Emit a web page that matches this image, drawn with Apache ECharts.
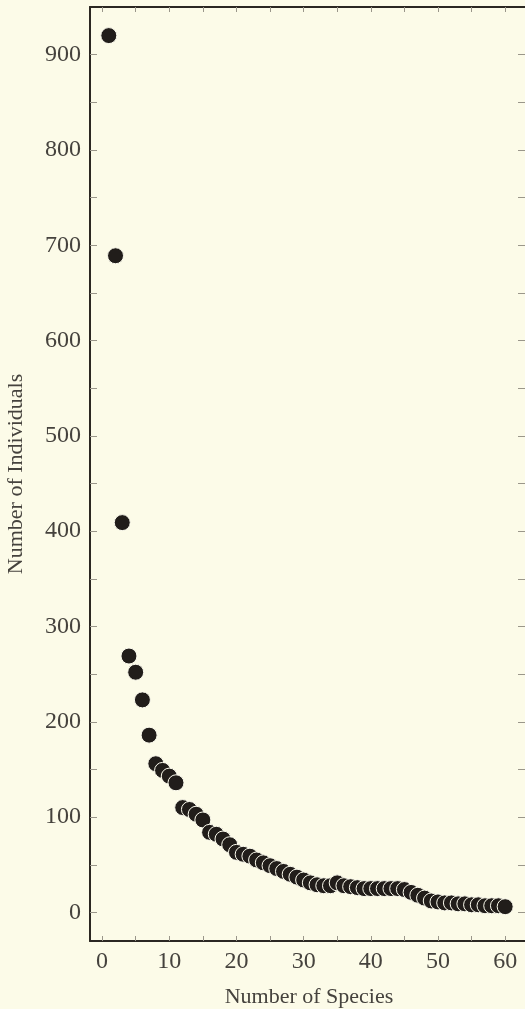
<!DOCTYPE html>
<html>
<head>
<meta charset="utf-8">
<script src="https://cdn.jsdelivr.net/npm/echarts@6/dist/echarts.min.js"></script>
<style>
html,body{margin:0;padding:0;background:#fcfbe8;}
#chart{width:525px;height:1009px;}
</style>
</head>
<body>
<div id="chart"></div>
<script>
const speciesRank = [1,2,3,4,5,6,7,8,9,10,11,12,13,14,15,16,17,18,19,20,21,22,23,24,25,26,27,28,29,30,31,32,33,34,35,36,37,38,39,40,41,42,43,44,45,46,47,48,49,50,51,52,53,54,55,56,57,58,59,60];
const individuals = [920,689,409,269,252,223,186,156,149,143,136,110,108,103,97,84,82,77,71,63,61,59,55,52,49,46,43,40,37,34,31,29,28,28,31,28,27,26,25,25,25,25,25,25,24,21,18,15,12,11,10,10,9,9,8,8,7,7,7,6];
const xTickValues = [0,5,10,15,20,25,30,35,40,45,50,55,60];
const xLabelValues = [0,10,20,30,40,50,60];
const yTickValues = [0,50,100,150,200,250,300,350,400,450,500,550,600,650,700,750,800,850,900];
const yLabelValues = [0,100,200,300,400,500,600,700,800,900];

const points = speciesRank.map((x, i) => [x, individuals[i]]);
const serif = '"Liberation Serif", "DejaVu Serif", serif';
const spineColor = '#2b2722';
const tickColor = '#9a968a';
const labelColor = '#45423d';

const chart = echarts.init(document.getElementById('chart'), null, {renderer: 'canvas'});
chart.setOption({
  backgroundColor: '#fcfbe8',
  animation: false,
  grid: {left: 90, top: 7, width: 438, height: 934, containLabel: false, outerBoundsMode: 'none'},
  xAxis: [
    {
      type: 'value', position: 'bottom', min: -1.8, max: 63.4,
      name: 'Number of Species', nameLocation: 'middle', nameGap: 45,
      nameTextStyle: {fontFamily: serif, fontSize: 22, color: labelColor},
      axisLine: {show: true, onZero: false, lineStyle: {color: spineColor, width: 2}},
      axisTick: {show: true, inside: true, length: 5, customValues: xTickValues, lineStyle: {color: tickColor, width: 1}},
      axisLabel: {customValues: xLabelValues, fontFamily: serif, fontSize: 24, color: labelColor, margin: 9},
      splitLine: {show: false}
    },
    {
      type: 'value', position: 'top', min: -1.8, max: 63.4,
      axisLine: {show: true, onZero: false, lineStyle: {color: spineColor, width: 2}},
      axisTick: {show: true, inside: true, length: 5, customValues: xTickValues, lineStyle: {color: tickColor, width: 1}},
      axisLabel: {show: false},
      splitLine: {show: false}
    }
  ],
  yAxis: [
    {
      type: 'value', position: 'left', min: -30, max: 950,
      name: 'Number of Individuals', nameLocation: 'middle', nameGap: 63, nameRotate: 90,
      nameTextStyle: {fontFamily: serif, fontSize: 22, color: labelColor},
      axisLine: {show: true, onZero: false, lineStyle: {color: spineColor, width: 2}},
      axisTick: {show: true, inside: true, length: 7, customValues: yTickValues, lineStyle: {color: tickColor, width: 1}},
      axisLabel: {customValues: yLabelValues, fontFamily: serif, fontSize: 24, color: labelColor, margin: 9},
      splitLine: {show: false}
    },
    {
      type: 'value', position: 'right', min: -30, max: 950,
      axisLine: {show: true, onZero: false, lineStyle: {color: spineColor, width: 2}},
      axisTick: {show: true, inside: true, length: 10, customValues: yTickValues, lineStyle: {color: tickColor, width: 1}},
      axisLabel: {show: false},
      splitLine: {show: false}
    }
  ],
  series: [{
    type: 'scatter',
    xAxisIndex: 0, yAxisIndex: 0,
    data: points,
    symbol: 'circle',
    symbolSize: 16,
    itemStyle: {color: '#211d1a', borderColor: '#fdfcef', borderWidth: 1, opacity: 1}
  }]
});
</script>
</body>
</html>
